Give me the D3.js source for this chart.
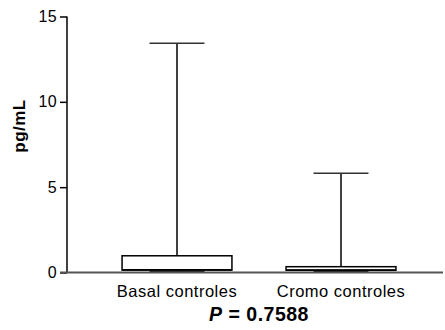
<!DOCTYPE html>
<html><head><meta charset="utf-8">
<script src="https://cdn.jsdelivr.net/npm/d3@7"></script>
<style>body{margin:0;background:#fff}svg{display:block}text{font-family:"Liberation Sans",Arial,sans-serif}</style>
</head><body><svg id="c" width="445" height="330"></svg>
<script>
const categories = ["Basal controles", "Cromo controles"];
const mins = [0.08, 0.08];
const q1s = [0.14, 0.13];
const medians = [0.16, 0.15];
const q3s = [0.98, 0.34];
const maxs = [13.43, 5.81];
const yTicks = [0, 5, 10, 15];
const yLabel = "pg/mL";
const pLabel = "0.7588";

const svg = d3.select("#c");
const y = d3.scaleLinear().domain([0, 15]).range([272.5, 16.5]);
const x = d3.scaleBand().domain(categories).range([95, 423]).padding(0);
const bw = x.bandwidth();
const boxW = bw * 0.67, capW = bw * 0.335;

// y axis
const ya = svg.append("g").attr("transform", "translate(67,0)")
  .call(d3.axisLeft(y).tickValues(yTicks).tickSize(7).tickPadding(3).tickFormat(d3.format("d")));
ya.select(".domain").attr("d", `M0,${y(15)}V${y(0)}`).attr("stroke", "#000").attr("stroke-width", 1.5);
ya.selectAll(".tick line").attr("stroke", "#000").attr("stroke-width", 1.5);
ya.selectAll(".tick text").attr("font-size", 16).attr("fill", "#000").attr("letter-spacing", 0.3)
  .attr("font-family", "Liberation Sans, Arial, sans-serif");

// x axis
svg.append("line").attr("x1", 60).attr("x2", 443).attr("y1", y(0)).attr("y2", y(0))
  .attr("stroke", "#555").attr("stroke-width", 2);

const g = svg.append("g");
categories.forEach((c, i) => {
  const cx = x(c) + bw / 2;
  g.append("line").attr("x1", cx).attr("x2", cx).attr("y1", y(maxs[i])).attr("y2", y(q3s[i]))
    .attr("stroke", "#000").attr("stroke-width", 1.5);
  g.append("line").attr("x1", cx - capW / 2).attr("x2", cx + capW / 2).attr("y1", y(maxs[i])).attr("y2", y(maxs[i]))
    .attr("stroke", "#333").attr("stroke-width", 1.5);
  g.append("line").attr("x1", cx).attr("x2", cx).attr("y1", y(q1s[i])).attr("y2", y(mins[i]))
    .attr("stroke", "#000").attr("stroke-width", 1.5);
  g.append("line").attr("x1", cx - capW / 2).attr("x2", cx + capW / 2).attr("y1", y(mins[i])).attr("y2", y(mins[i]))
    .attr("stroke", "#333").attr("stroke-width", 1.5);
  g.append("rect").attr("x", cx - boxW / 2).attr("width", boxW)
    .attr("y", y(q3s[i])).attr("height", y(q1s[i]) - y(q3s[i]))
    .attr("fill", "#fff").attr("stroke", "#000").attr("stroke-width", 1.5);
  g.append("line").attr("x1", cx - boxW / 2).attr("x2", cx + boxW / 2).attr("y1", y(medians[i])).attr("y2", y(medians[i]))
    .attr("stroke", "#000").attr("stroke-width", 1.5);
  svg.append("text").attr("x", cx).attr("y", 297).attr("text-anchor", "middle")
    .attr("font-size", 16.5).attr("letter-spacing", 0.5).text(c);
});

// y label
svg.append("text").attr("transform", "translate(25,126) rotate(-90)").attr("text-anchor", "middle")
  .attr("font-size", 17).attr("font-weight", "bold").attr("letter-spacing", 0.5).text(yLabel);

// P label
const pcx = (x(categories[0]) + x(categories[1]) + bw) / 2;
const pt = svg.append("text").attr("x", pcx).attr("y", 321).attr("text-anchor", "middle")
  .attr("font-size", 19.5).attr("font-weight", "bold").attr("letter-spacing", 0.5);
pt.append("tspan").attr("font-style", "italic").text("P");
pt.append("tspan").text(" = " + pLabel);
</script></body></html>
